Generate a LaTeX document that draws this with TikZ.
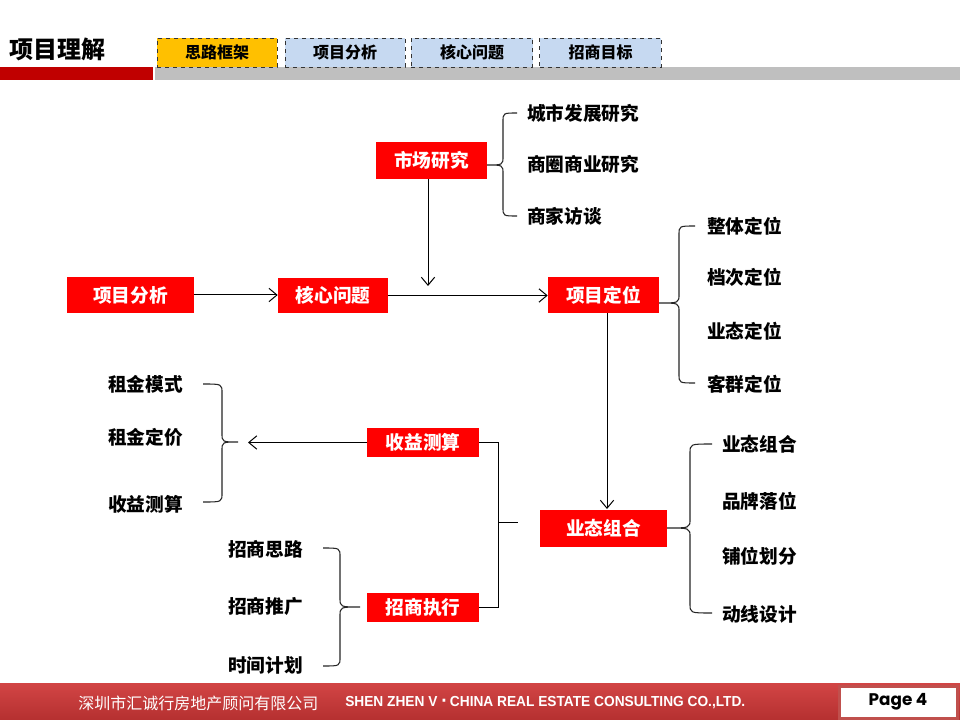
\documentclass[tikz,border=0pt]{standalone}
\usepackage{fontspec}
\usepackage{graphicx}
\setmainfont{Noto Sans CJK SC}
\newfontfamily\latinfont{Liberation Sans}
\newfontfamily\pagefont{Poppins}
\usetikzlibrary{arrows.meta}
\definecolor{boxred}{HTML}{FF0000}
\definecolor{barred}{HTML}{C00000}
\definecolor{bargray}{HTML}{BFBFBF}
\definecolor{tabblue}{HTML}{C6D9F1}
\definecolor{tabgold}{HTML}{FFC000}
\definecolor{foottop}{HTML}{D24545}
\definecolor{footbot}{HTML}{B53030}
\definecolor{pageborder}{HTML}{C0504D}
\newcommand\mybrace[6]{%
  \draw[bracestyle] (#1,#4) .. controls (#2,#4) .. (#2,#4+9) -- (#2,#5-9)
    .. controls (#2,#5) .. (#3,#5) .. controls (#2,#5) .. (#2,#5+9)
    -- (#2,#6-9) .. controls (#2,#6) .. (#1,#6);}
\begin{document}
\begin{tikzpicture}[x=0.75pt,y=-0.75pt,
  redbox/.style={fill=boxred,text=white,font=\bfseries\fontsize{14}{16}\selectfont,inner sep=0pt},
  lbl/.style={anchor=west,inner sep=0pt,font=\bfseries\fontsize{14}{16}\selectfont,text=black},
  tabbox/.style={draw=black!80,dashed,line width=0.6pt,minimum height=21.75pt,inner sep=0pt,font=\bfseries\fontsize{12}{14}\selectfont},
  arr/.style={draw=black,line width=0.75pt,-{Straight Barb[length=6pt,width=10pt]}},
  conn/.style={draw=black,line width=0.75pt},
  bracestyle/.style={draw=black!85,line width=0.8pt}]
\useasboundingbox (0,0) rectangle (960,720);
\fill[white] (0,0) rectangle (960,720);
% header
\node[anchor=west,inner sep=0pt,font=\bfseries\fontsize{18}{20}\selectfont] (title) at (9,49) {项目理解};
\fill[barred] (0,67) rectangle (153,80);
\fill[bargray] (155,67) rectangle (960,80);
\node[tabbox,fill=tabgold,minimum width=90pt] (tab1) at (217,52.5) {思路框架};
\node[tabbox,fill=tabblue,minimum width=90pt] (tab2) at (345,52.5) {项目分析};
\node[tabbox,fill=tabblue,minimum width=91pt] (tab3) at (472,52.5) {核心问题};
\node[tabbox,fill=tabblue,minimum width=91pt] (tab4) at (600.5,52.5) {招商目标};
% footer
\shade[top color=foottop,bottom color=footbot] (0,683) rectangle (960,720);
\node[anchor=west,inner sep=0pt,text=white,font=\fontsize{12}{14}\selectfont] (fcn) at (78,703) {深圳市汇诚行房地产顾问有限公司};
\node[anchor=west,inner sep=0pt,text=white] (fen) at (345,703) {\resizebox{300pt}{7.6pt}{\latinfont\bfseries SHEN ZHEN V {\fontsize{14}{14}\selectfont\raisebox{-0.5pt}{·}}\,CHINA REAL ESTATE CONSULTING CO.,LTD.}};
\node[draw=pageborder,line width=2.25pt,fill=white,minimum width=88.5pt,minimum height=24pt,inner sep=0pt] (page) at (898,702) {\raisebox{-1.5pt}{\resizebox{44pt}{!}{\pagefont\bfseries Page 4}}};
% red boxes
\node[redbox,minimum width=83.25pt,minimum height=27.75pt] (scyj) at (431.5,160.5) {市场研究};
\node[redbox,minimum width=95.25pt,minimum height=27pt] (xmfx) at (130.5,295) {项目分析};
\node[redbox,minimum width=82.5pt,minimum height=26.5pt] (hxwt) at (333,295.5) {核心问题};
\node[redbox,minimum width=83.25pt,minimum height=27pt] (xmdw) at (603.5,295) {项目定位};
\node[redbox,minimum width=84pt,minimum height=21.75pt] (sycs) at (423,442.5) {收益测算};
\node[redbox,minimum width=95.25pt,minimum height=27.75pt] (ytzh) at (603.5,528.5) {业态组合};
\node[redbox,minimum width=84pt,minimum height=21.75pt] (zszx) at (423,607.5) {招商执行};
% labels
\node[lbl] (a1) at (527,113) {城市发展研究};
\node[lbl] (a2) at (527,164) {商圈商业研究};
\node[lbl] (a3) at (527,216) {商家访谈};
\node[lbl] (b1) at (707,226) {整体定位};
\node[lbl] (b2) at (707,277) {档次定位};
\node[lbl] (b3) at (707,331) {业态定位};
\node[lbl] (b4) at (707,384) {客群定位};
\node[lbl] (c1) at (108,384) {租金模式};
\node[lbl] (c2) at (108,437) {租金定价};
\node[lbl] (c3) at (108,504) {收益测算};
\node[lbl] (d1) at (722,444) {业态组合};
\node[lbl] (d2) at (722,501) {品牌落位};
\node[lbl] (d3) at (722,556) {铺位划分};
\node[lbl] (d4) at (722,614) {动线设计};
\node[lbl] (e1) at (228,549) {招商思路};
\node[lbl] (e2) at (228,606) {招商推广};
\node[lbl] (e3) at (228,665) {时间计划};
% braces
\mybrace{517}{503}{487}{113}{165}{216}
\mybrace{695}{679}{659}{226}{303}{383}
\mybrace{203}{222}{238}{384}{442}{502}
\mybrace{712}{690}{667}{444}{528}{613}
\mybrace{323}{340}{360}{548}{607}{666}
% connectors
\coordinate (m1) at (428,286);
\coordinate (m2) at (607,509);
\coordinate (m3) at (248,442.5);
\coordinate (j1) at (498,442.5);
\coordinate (j2) at (498,607.5);
\coordinate (s1) at (498,522);
\coordinate (s2) at (518,522);
\draw[arr] (xmfx.east) -- (hxwt.west |- xmfx.east);
\draw[arr] (hxwt.east) -- (xmdw.west |- hxwt.east);
\draw[arr] (scyj.south -| m1) -- (m1);
\draw[arr] (xmdw.south -| m2) -- (m2);
\draw[arr] (sycs.west) -- (m3);
\draw[conn] (sycs.east) -- (j1) -- (j2) -- (zszx.east);
\draw[conn] (s1) -- (s2);
\end{tikzpicture}
\end{document}
